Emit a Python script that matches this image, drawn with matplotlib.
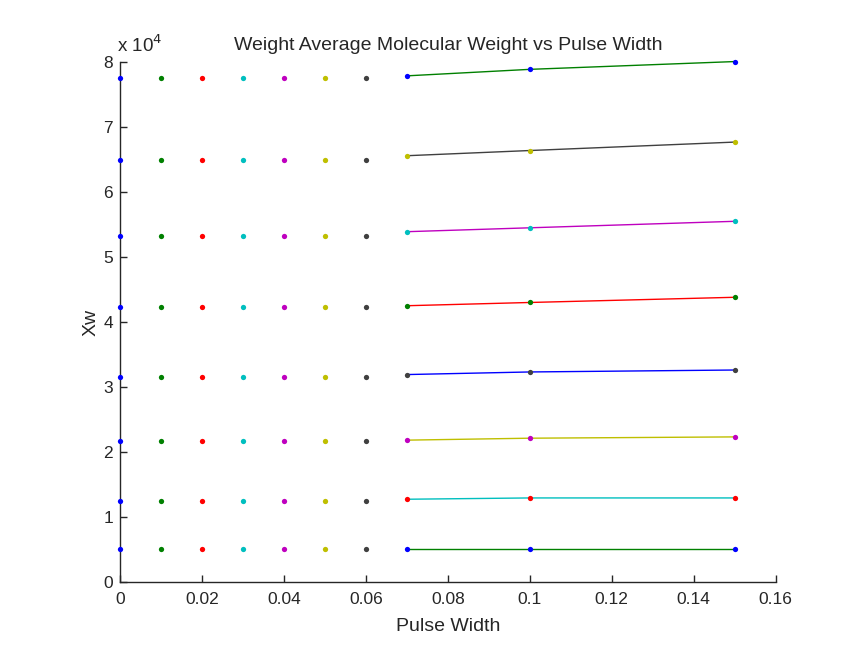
import matplotlib
matplotlib.use("Agg")
import matplotlib.pyplot as plt
from matplotlib.ticker import FixedLocator, FuncFormatter

plt.rcParams['font.family'] = ['Liberation Sans', 'DejaVu Sans']

# MATLAB-style colour set
C = {
    'b': (0.0, 0.0, 1.0),
    'g': (0.0, 0.5, 0.0),
    'r': (1.0, 0.0, 0.0),
    'c': (0.0, 0.75, 0.75),
    'm': (0.75, 0.0, 0.75),
    'y': (0.75, 0.75, 0.0),
    'k': (0.25, 0.25, 0.25),
}

# Short pulses: one dot per (pulse width, level)
pulse_short = [0.00, 0.01, 0.02, 0.03, 0.04, 0.05, 0.06]
short_colors = ['b', 'g', 'r', 'c', 'm', 'y', 'k']
levels = [5000, 12500, 21600, 31600, 42300, 53300, 65000, 77500]

# Longer pulses: fitted series per level (bottom to top)
pulse_long = [0.07, 0.10, 0.15]
xw_long = [
    [5100, 5100, 5100],
    [12700, 12900, 12900],
    [21800, 22100, 22300],
    [31900, 32300, 32600],
    [42500, 43000, 43800],
    [53900, 54500, 55500],
    [65600, 66400, 67700],
    [77900, 78900, 80100],
]
line_colors = ['g', 'c', 'y', 'b', 'r', 'm', 'k', 'g']
dot_colors = ['b', 'r', 'm', 'k', 'g', 'c', 'y', 'b']

x_ticks = [0, 0.02, 0.04, 0.06, 0.08, 0.10, 0.12, 0.14, 0.16]
x_tick_labels = ['0', '0.02', '0.04', '0.06', '0.08', '0.1', '0.12', '0.14', '0.16']
y_ticks = [0, 10000, 20000, 30000, 40000, 50000, 60000, 70000, 80000]

TXT = '#262626'

fig = plt.figure(figsize=(8.45, 6.48), dpi=100)
ax = fig.add_axes([0.142, 0.1023, 0.776, 0.8017])

for x, col in zip(pulse_short, short_colors):
    ax.plot([x] * len(levels), levels, linestyle='none', marker='o',
            markersize=3.8, markeredgewidth=0, color=C[col], zorder=3,
            clip_on=False)

for ys, lc, dc in zip(xw_long, line_colors, dot_colors):
    ax.plot(pulse_long, ys, '-', color=C[lc], linewidth=1.0, zorder=2,
            clip_on=False)
    ax.plot(pulse_long, ys, linestyle='none', marker='o', markersize=3.8,
            markeredgewidth=0, color=C[dc], zorder=3, clip_on=False)

ax.set_xlim(0, 0.16)
ax.set_ylim(0, 80000)
ax.xaxis.set_major_locator(FixedLocator(x_ticks))
ax.set_xticklabels(x_tick_labels)
ax.yaxis.set_major_locator(FixedLocator(y_ticks))
ax.yaxis.set_major_formatter(FuncFormatter(lambda v, p: f"{v / 1e4:g}"))

for side in ('top', 'right'):
    ax.spines[side].set_visible(False)
for side in ('left', 'bottom'):
    ax.spines[side].set_color(TXT)
    ax.spines[side].set_linewidth(1.0)
ax.tick_params(direction='in', length=5, width=1.0, color=TXT,
               labelsize=12.5, labelcolor=TXT)
ax.tick_params(axis='x', pad=7.5)
ax.tick_params(axis='y', pad=5)

ax.set_title('Weight Average Molecular Weight vs Pulse Width',
             fontsize=14, color=TXT, pad=9)
ax.set_xlabel('Pulse Width', fontsize=14, color=TXT, labelpad=8)
ax.set_ylabel('Xw', fontsize=14, color=TXT, labelpad=3)
ax.text(-0.005, 1.012, r'x 10$^4$', transform=ax.transAxes, fontsize=13.5,
        color=TXT, ha='left', va='bottom')

fig.savefig('out.png', dpi=100, facecolor='white')
